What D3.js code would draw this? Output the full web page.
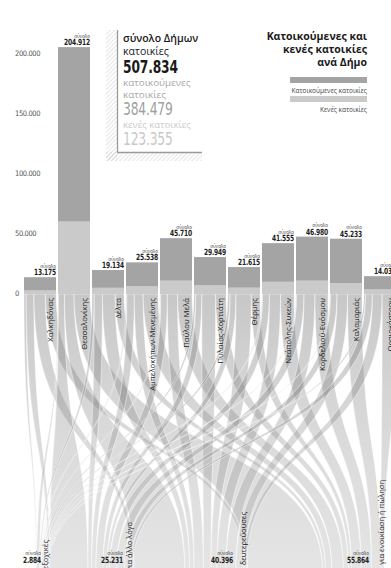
<!DOCTYPE html>
<html><head><meta charset="utf-8">
<script src="https://cdn.jsdelivr.net/npm/d3@7"></script>
<style>
html,body{margin:0;padding:0;background:#fff;}
svg{display:block;}
</style></head><body>
<svg id="c" width="391" height="568"></svg>
<script>
// ---------- data ----------
const municipalities = ["Χαλκηδόνας","Θεσσαλονίκης","Δέλτα","Αμπελοκήπων-Μενεμένης","Παύλου Μελά","Πυλαίας-Χορτιάτη","Θέρμης","Νεάπολης-Συκεών","Κορδελιού-Ευόσμου","Καλαμαριάς","Ωραιοκάστρου"];
const totalDwellings  = [13175,204912,19134,25538,45710,29949,21615,41555,46980,45233,14033];
const vacantDwellings = [2100,59500,4300,5600,10300,6300,4400,9300,10300,8300,2955];
const categories = ["εξοχικές","για άλλο λόγο","δευτερεύουσες","για ενοικίαση ή πώληση"];
const categoryTotals = [2884,25231,40396,55864];
// estimated flows municipality -> vacancy category
const flowHoliday   = [150,700,300,150,250,350,300,180,200,150,154];
const flowOther     = [500,11500,1100,1300,2100,1200,800,2000,2400,1700,631];
const flowSecondary = [750,18000,1700,1550,3300,2700,2100,3200,3500,2700,896];
const flowRentSale  = [700,30320,1200,2600,4650,2050,1200,3920,4200,3750,1274];
const summaryValues = [507834,384479,123355];
const yTicks = [0,50000,100000,150000,200000];

// ---------- setup ----------
const svg = d3.select("#c");
const loc = d3.formatLocale({decimal:",",thousands:".",grouping:[3],currency:["",""]});
const fmt = loc.format(",d");
const numFont = "'DejaVu Sans Condensed',sans-serif";
const txtFont = "'Open Sans','Noto Sans',sans-serif";

const x = d3.scaleBand().domain(municipalities).range([24,396]).paddingInner(2/34).paddingOuter(0);
const y = d3.scaleLinear().domain([0,200000]).range([293,53]);
const bw = x.bandwidth();

const flows = [flowHoliday, flowOther, flowSecondary, flowRentSale]; // [cat][mun]

// bottom nodes (layout): contiguous ranges ending at these right edges
const bottomRight = [48,132,246,384];
const bottomLeftStart = 36;
const bottomNodes = categories.map((c,j)=>({x0: j===0?bottomLeftStart:bottomRight[j-1], x1: bottomRight[j]}));

// condensed number label helper
function numLabel(g, xr, yb, val, size, color, weight, anchor){
  g.append("text").attr("transform",`translate(${xr},${yb}) scale(0.78,1)`)
    .attr("text-anchor",anchor||"end").attr("font-family",numFont)
    .attr("font-weight",weight||"bold").attr("font-size",size).attr("fill",color)
    .attr("letter-spacing",-0.2).text(fmt(val));
}

// ---------- ribbons ----------
const yTop = 294, yBot = 572;
const ribbons = [];
const topCursor = municipalities.map(m=>x(m));
const botCursor = bottomNodes.map(n=>n.x0);
municipalities.forEach((m,i)=>{
  const rowSum = d3.sum(flows, f=>f[i]);
  flows.forEach((f,j)=>{
    const colSum = d3.sum(f);
    const wt = bw * f[i]/rowSum;
    const wb = (bottomNodes[j].x1-bottomNodes[j].x0) * f[i]/colSum;
    ribbons.push({i,j,a0:topCursor[i],a1:topCursor[i]+wt,b0:0,b1:0,wb});
    topCursor[i]+=wt;
  });
});
categories.forEach((c,j)=>{
  ribbons.filter(r=>r.j===j).sort((a,b)=>a.i-b.i).forEach(r=>{
    r.b0 = botCursor[j]; r.b1 = botCursor[j]+r.wb; botCursor[j]+=r.wb;
  });
});
function ribbonPath(r){
  const p = d3.path();
  const k1 = 165, k2 = 140;
  p.moveTo(r.a0,yTop);
  p.bezierCurveTo(r.a0,yTop+k1, r.b0,yBot-k2, r.b0,yBot);
  p.lineTo(r.b1,yBot);
  p.bezierCurveTo(r.b1,yBot-k2, r.a1,yTop+k1, r.a1,yTop);
  p.closePath();
  return p.toString();
}
const defs = svg.append("defs");
const grad = defs.append("linearGradient").attr("id","rib").attr("gradientUnits","userSpaceOnUse")
  .attr("x1",0).attr("y1",yTop).attr("x2",0).attr("y2",yBot);
grad.append("stop").attr("offset",0).attr("stop-color","#7a7a7a").attr("stop-opacity",0.42);
grad.append("stop").attr("offset",0.5).attr("stop-color","#8a8a8a").attr("stop-opacity",0.32);
grad.append("stop").attr("offset",1).attr("stop-color","#9a9a9a").attr("stop-opacity",0.26);
svg.append("g").selectAll("path").data(ribbons).join("path")
  .attr("d",ribbonPath)
  .attr("fill","url(#rib)")
  .attr("stroke","#ffffff").attr("stroke-width",0.6).attr("stroke-opacity",0.75);

// ---------- bars ----------
const bars = svg.append("g");
municipalities.forEach((m,i)=>{
  bars.append("rect").attr("x",x(m)).attr("width",bw)
    .attr("y",y(vacantDwellings[i])).attr("height",y(0)-y(vacantDwellings[i])+1)
    .attr("fill","#cacaca");
  bars.append("rect").attr("x",x(m)).attr("width",bw)
    .attr("y",y(totalDwellings[i])).attr("height",y(vacantDwellings[i])-y(totalDwellings[i]))
    .attr("fill","#a4a4a4");
  const rx = x(m)+bw;
  const ty = y(totalDwellings[i]);
  bars.append("text").attr("x",rx).attr("y",ty-9.5).attr("text-anchor","end")
    .attr("font-family",txtFont).attr("font-size",4.5).attr("fill","#333").text("σύνολο");
  numLabel(bars, rx, ty-2, totalDwellings[i], 8.5, "#222");
  bars.append("text").attr("transform",`translate(${rx-3},${yTop+4}) rotate(-90)`)
    .attr("text-anchor","end").attr("font-family",txtFont).attr("font-size",7.7)
    .attr("fill","#1a1a1a").text(m);
});

// ---------- y axis ----------
const ax = svg.append("g").attr("transform","translate(15,0)")
  .call(d3.axisRight(y).tickValues(yTicks).tickFormat(fmt).tickSize(0).tickPadding(0));
ax.select(".domain").remove();
ax.selectAll("text").attr("font-family",numFont).attr("font-size",7.5)
  .attr("letter-spacing",-0.4).attr("fill","#555");

// ---------- bottom labels ----------
const bl = svg.append("g");
const bottomValueRight = [41,123,233,369];
const bottomNameEnd = [540,522,512,480];
categories.forEach((c,j)=>{
  const vx = bottomValueRight[j];
  bl.append("text").attr("x",vx).attr("y",555).attr("text-anchor","end")
    .attr("font-family",txtFont).attr("font-size",4.5).attr("fill","#333").text("σύνολο");
  numLabel(bl, vx, 563, categoryTotals[j], 8.5, "#222");
  bl.append("text").attr("transform",`translate(${bottomRight[j]-0.5},${bottomNameEnd[j]}) rotate(-90)`)
    .attr("text-anchor","end").attr("font-family",txtFont).attr("font-size",7.5)
    .attr("fill","#1a1a1a").text(c);
});

// ---------- summary box ----------
const pat = defs.append("pattern").attr("id","hatch").attr("width",3).attr("height",3)
  .attr("patternUnits","userSpaceOnUse").attr("patternTransform","rotate(45)");
pat.append("line").attr("x1",0).attr("y1",0).attr("x2",0).attr("y2",3)
  .attr("stroke","#b5b5b5").attr("stroke-width",0.7);
const sb = svg.append("g");
sb.append("rect").attr("x",106).attr("y",30).attr("width",11).attr("height",131).attr("fill","url(#hatch)");
sb.append("rect").attr("x",106).attr("y",152).attr("width",96).attr("height",9).attr("fill","url(#hatch)");
sb.append("line").attr("x1",117.5).attr("x2",117.5).attr("y1",30).attr("y2",152.5).attr("stroke","#9a9a9a").attr("stroke-width",1.3);
sb.append("line").attr("x1",117).attr("x2",202).attr("y1",152.5).attr("y2",152.5).attr("stroke","#9a9a9a").attr("stroke-width",1.3);
const sx = 123;
const sText = [
  {t:"σύνολο Δήμων",y:42,s:10.5,c:"#1a1a1a",w:600},
  {t:"κατοικίες",y:55,s:10.5,c:"#1a1a1a",w:400},
  {t:"κατοικούμενες",y:86,s:9.8,c:"#a8a8a8",w:400},
  {t:"κατοικίες",y:98,s:9.8,c:"#a8a8a8",w:400},
  {t:"κενές κατοικίες",y:128,s:9.5,c:"#cacaca",w:400}
];
sText.forEach(d=>{
  sb.append("text").attr("x",sx).attr("y",d.y).attr("font-family",txtFont).attr("font-size",d.s)
    .attr("font-weight",d.w).attr("fill",d.c).text(d.t);
});
numLabel(sb, sx, 73, summaryValues[0], 17.5, "#1a1a1a", "bold", "start");
numLabel(sb, sx, 115, summaryValues[1], 17.5, "#a0a0a0", "normal", "start");
numLabel(sb, sx, 145, summaryValues[2], 17.5, "#c8c8c8", "normal", "start");

// ---------- legend ----------
const lg = svg.append("g");
["Κατοικούμενες και","κενές κατοικίες","ανά Δήμο"].forEach((t,k)=>{
  lg.append("text").attr("x",367).attr("y",40+k*13).attr("text-anchor","end")
    .attr("font-family",txtFont).attr("font-weight","bold").attr("font-size",10.5)
    .attr("fill","#1a1a1a").text(t);
});
lg.append("rect").attr("x",290).attr("y",77).attr("width",77).attr("height",6).attr("fill","#a4a4a4");
lg.append("text").attr("x",367).attr("y",93).attr("text-anchor","end").attr("font-family",txtFont)
  .attr("font-size",6.5).attr("fill","#444").text("Κατοικούμενες κατοικίες");
lg.append("rect").attr("x",290).attr("y",96).attr("width",77).attr("height",6).attr("fill","#cacaca");
lg.append("text").attr("x",367).attr("y",112).attr("text-anchor","end").attr("font-family",txtFont)
  .attr("font-size",6.5).attr("fill","#444").text("Κενές κατοικίες");
</script>
</body></html>
